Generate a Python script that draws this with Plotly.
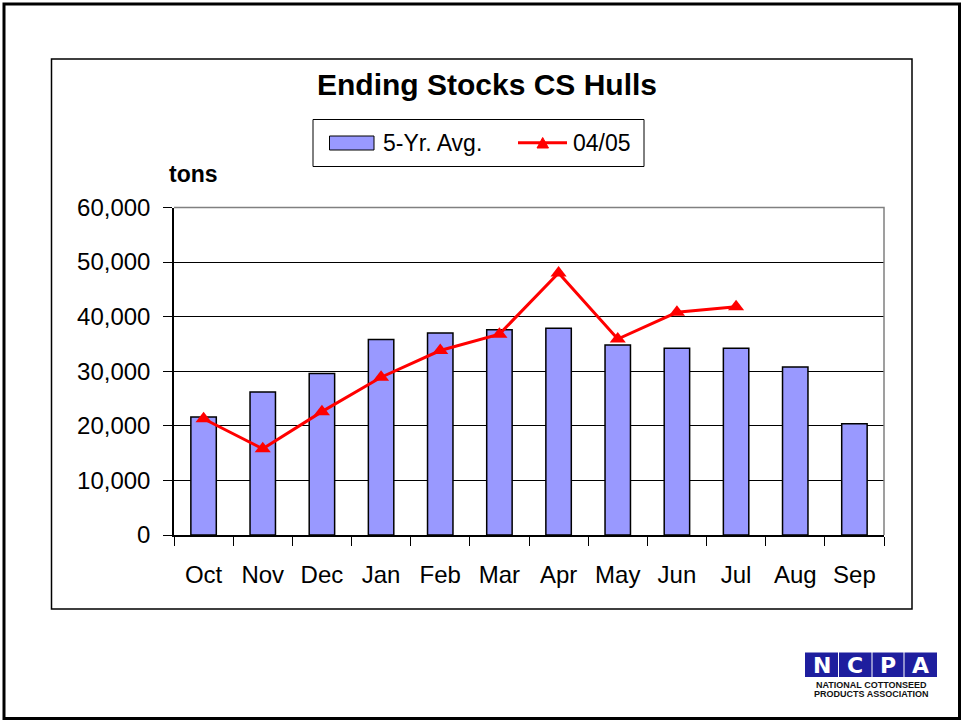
import plotly.graph_objects as go

months = ["Oct", "Nov", "Dec", "Jan", "Feb", "Mar", "Apr", "May", "Jun", "Jul", "Aug", "Sep"]
avg_5yr = [21600, 26200, 29600, 35800, 37000, 37600, 37900, 34800, 34200, 34200, 30800, 20400]
season_0405 = [21300, 15800, 22600, 28900, 33800, 36800, 48000, 35900, 40800, 41800, None, None]
y_ticks = [0, 10000, 20000, 30000, 40000, 50000, 60000]

W, H = 961, 721
FONT = "Arial, Liberation Sans, sans-serif"

def px(x):
    return x / W

def py(y):
    return 1 - y / H

x_dom = [px(174), px(884)]
y_dom = [py(535), py(207.5)]

fig = go.Figure()
fig.add_trace(go.Bar(
    x=months, y=avg_5yr, name="5-Yr. Avg.",
    marker=dict(color="#9999FF", line=dict(color="#000000", width=1.5)),
    showlegend=False,
))
fig.add_trace(go.Scatter(
    x=months, y=season_0405, name="04/05", mode="lines+markers",
    line=dict(color="#FF0000", width=3),
    marker=dict(symbol="triangle-up", size=14, color="#FF0000"),
    showlegend=False,
))

shapes = []
# outer frame
shapes.append(dict(type="rect", xref="paper", yref="paper", x0=px(4), x1=px(959.5), y0=py(718.5), y1=py(4),
                   line=dict(color="#000000", width=3)))
# chart area frame
shapes.append(dict(type="rect", xref="paper", yref="paper", x0=px(51.5), x1=px(912), y0=py(609), y1=py(59),
                   line=dict(color="#000000", width=1.5)))
# plot area top/right border
shapes.append(dict(type="path", xref="paper", yref="paper",
                   path=f"M {x_dom[0]},{y_dom[1]} L {x_dom[1]},{y_dom[1]} L {x_dom[1]},{y_dom[0]}",
                   line=dict(color="#808080", width=1.5)))
# legend box
shapes.append(dict(type="rect", xref="paper", yref="paper", x0=px(313), x1=px(644), y0=py(166.5), y1=py(119.5),
                   line=dict(color="#000000", width=1), fillcolor="#FFFFFF"))
# legend bar swatch
shapes.append(dict(type="rect", xref="paper", yref="paper", x0=px(329.5), x1=px(374), y0=py(150), y1=py(136),
                   line=dict(color="#000000", width=1), fillcolor="#9999FF"))
# legend line swatch
shapes.append(dict(type="line", xref="paper", yref="paper", x0=px(518), x1=px(567), y0=py(142.7), y1=py(142.7),
                   line=dict(color="#FF0000", width=3)))
# legend triangle
shapes.append(dict(type="path", xref="paper", yref="paper",
                   path=f"M {px(537)},{py(148)} L {px(548.5)},{py(148)} L {px(542.7)},{py(137.5)} Z",
                   line=dict(color="#FF0000", width=1), fillcolor="#FF0000"))

# NCPA logo boxes
logo_letters = ["N", "C", "P", "A"]
logo_x = [(805, 838), (839, 871.5), (872.5, 903.5), (904.5, 937)]
for (a, b) in logo_x:
    shapes.append(dict(type="rect", xref="paper", yref="paper", x0=px(a), x1=px(b), y0=py(677), y1=py(652.5),
                       line=dict(width=0), fillcolor="#1E1E9E"))

annotations = [
    dict(text="<b>Ending Stocks CS Hulls</b>", x=px(487), y=py(85), xref="paper", yref="paper",
         xanchor="center", yanchor="middle", showarrow=False, font=dict(family=FONT, size=30, color="#000000")),
    dict(text="<b>tons</b>", x=px(167), y=py(174), xref="paper", yref="paper",
         xanchor="left", yanchor="middle", showarrow=False, font=dict(family=FONT, size=23, color="#000000")),
    dict(text="5-Yr. Avg.", x=px(381), y=py(143), xref="paper", yref="paper",
         xanchor="left", yanchor="middle", showarrow=False, font=dict(family=FONT, size=23, color="#000000")),
    dict(text="04/05", x=px(571), y=py(143), xref="paper", yref="paper",
         xanchor="left", yanchor="middle", showarrow=False, font=dict(family=FONT, size=23, color="#000000")),
    dict(text="<b>NATIONAL COTTONSEED</b>", x=px(871.5), y=py(685), xref="paper", yref="paper",
         xanchor="center", yanchor="middle", showarrow=False, font=dict(family=FONT, size=9, color="#111111")),
    dict(text="<b>PRODUCTS ASSOCIATION</b>", x=px(871.5), y=py(693.5), xref="paper", yref="paper",
         xanchor="center", yanchor="middle", showarrow=False, font=dict(family=FONT, size=9, color="#111111")),
]
for letter, (a, b) in zip(logo_letters, logo_x):
    annotations.append(dict(text=f"<b>{letter}</b>", x=px((a + b) / 2), y=py(665), xref="paper", yref="paper",
                            xanchor="center", yanchor="middle", showarrow=False,
                            font=dict(family="DejaVu Sans, sans-serif", size=22, color="#FFFFFF")))

fig.update_layout(
    width=W, height=H, autosize=False,
    margin=dict(l=0, r=0, t=0, b=0, pad=0),
    paper_bgcolor="#FFFFFF", plot_bgcolor="#FFFFFF",
    font=dict(family=FONT, size=24, color="#000000"),
    bargap=0.57,
    shapes=shapes,
    annotations=annotations,
    xaxis=dict(
        domain=x_dom, type="category", categoryorder="array", categoryarray=months,
        range=[-0.5, len(months) - 0.5],
        showline=True, linecolor="#000000", linewidth=1.5,
        ticks="outside", ticklen=9, tickcolor="#000000", tickwidth=1, tickson="boundaries",
        showgrid=False, tickfont=dict(family=FONT, size=24, color="#000000"),
        ticklabelstandoff=17, automargin=False,
    ),
    yaxis=dict(
        domain=y_dom, range=[0, 60000], tickvals=y_ticks, tickformat=",",
        showline=True, linecolor="#000000", linewidth=1.5,
        ticks="outside", ticklen=9, tickcolor="#000000", tickwidth=1,
        showgrid=True, gridcolor="#000000", gridwidth=1, zeroline=False,
        tickfont=dict(family=FONT, size=24, color="#000000"),
        ticklabelstandoff=8, automargin=False,
    ),
)

fig.write_html("out.html", config={"displayModeBar": False})
with open("out.html", "r", encoding="utf-8") as f:
    html = f.read()
html = html.replace("<head>", "<head><style>html,body{margin:0;padding:0;overflow:hidden;}</style>", 1)
with open("out.html", "w", encoding="utf-8") as f:
    f.write(html)
